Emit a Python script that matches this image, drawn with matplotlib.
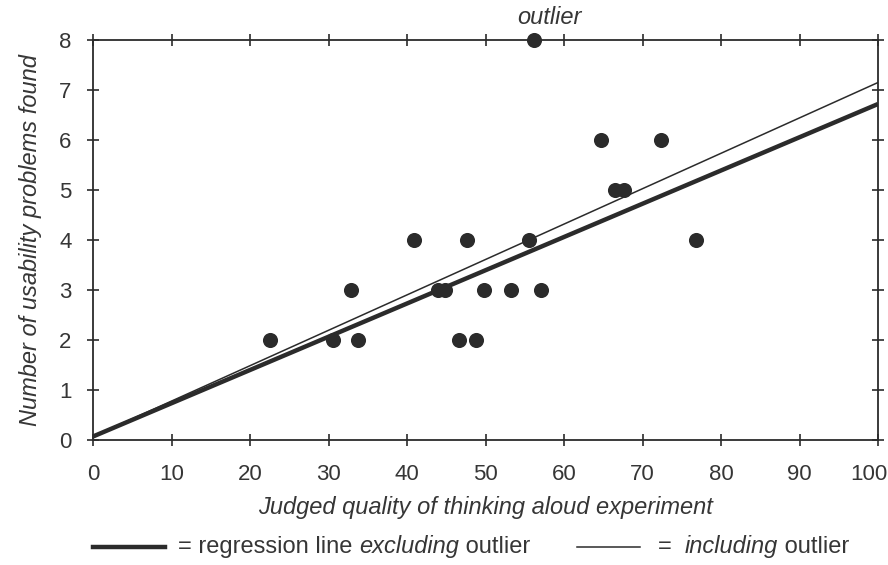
# Usability problems vs. quality of thinking aloud experiment
import matplotlib
matplotlib.use('Agg')
import matplotlib.pyplot as plt
import matplotlib.transforms as mtransforms
from matplotlib.lines import Line2D

plt.rcParams['font.family'] = ['Liberation Sans', 'DejaVu Sans']

# data
quality = [22.5, 30.6, 33.8, 32.9, 40.9, 43.9, 44.8, 47.6, 46.6, 48.8,
           49.8, 53.2, 55.5, 57.1, 64.7, 66.5, 67.6, 72.4, 76.8]
problems = [2, 2, 2, 3, 4, 3, 3, 4, 2, 2,
            3, 3, 4, 3, 6, 5, 5, 6, 4]
outlier_x = [56.2]
outlier_y = [8]

# regression lines (ends at x = 0 and x = 100)
reg_x = [0, 100]
excl_y = [0.07, 6.72]
incl_y = [0.07, 7.15]

x_ticks = list(range(0, 101, 10))
y_ticks = list(range(0, 9))

ink = '#2b2b2b'
txt = '#363636'
fs = 17

fig = plt.figure(figsize=(8.88, 5.65), dpi=100)
ax = fig.add_axes([93 / 888, 1 - 440 / 565, 785 / 888, 400 / 565])

ax.plot(reg_x, excl_y, color=ink, lw=3.2, solid_capstyle='butt', zorder=2)
ax.plot(reg_x, incl_y, color=ink, lw=1.1, zorder=2)
ax.scatter(quality, problems, s=118, color=ink, zorder=3, linewidths=0)
ax.scatter(outlier_x, outlier_y, s=118, color=ink, zorder=3, linewidths=0, clip_on=False)
ax.annotate('outlier', (outlier_x[0], outlier_y[0]), xytext=(15, 23),
            textcoords='offset pixels', ha='center', va='center',
            fontsize=fs, style='italic', color=txt, annotation_clip=False)

ax.set_xlim(0, 100)
ax.set_ylim(0, 8)
ax.set_xticks(x_ticks)
ax.set_yticks(y_ticks)
for s in ax.spines.values():
    s.set_linewidth(1.3)
    s.set_color(ink)
ax.tick_params(direction='inout', length=9, width=1.2, color=ink,
               top=True, right=True, labelsize=16, labelcolor=txt)
ax.tick_params(axis='x', pad=13)
ax.tick_params(axis='y', pad=11)

# last x label sits a bit left of its tick, as in the scan
last = ax.get_xticklabels()[-1]
last.set_transform(last.get_transform() +
                   mtransforms.ScaledTranslation(-9 / 100, 0, fig.dpi_scale_trans))

ax.set_xlabel('Judged quality of thinking aloud experiment', fontsize=fs,
              style='italic', color=txt, labelpad=8)
ax.set_ylabel('Number of usability problems found', fontsize=fs,
              style='italic', color=txt, labelpad=12)

# hand-made legend below the axes
fig.add_artist(Line2D([93 / 888, 165 / 888], [1 - 547 / 565] * 2, color=ink, lw=3.2))
fig.add_artist(Line2D([577 / 888, 640 / 888], [1 - 547 / 565] * 2, color=ink, lw=1.1))

renderer = fig.canvas.get_renderer()


def put_pieces(x0, y0, pieces):
    x = x0
    for s, st in pieces:
        t = fig.text(x, y0, s, fontsize=fs, style=st, color=txt, va='center', ha='left')
        bb = t.get_window_extent(renderer)
        x += bb.width / fig.bbox.width


put_pieces(178 / 888, 1 - 547 / 565,
           [('= regression line ', 'normal'), ('excluding', 'italic'), (' outlier', 'normal')])
put_pieces(658 / 888, 1 - 547 / 565,
           [('=  ', 'normal'), ('including', 'italic'), (' outlier', 'normal')])

fig.savefig('out.png', dpi=100)
